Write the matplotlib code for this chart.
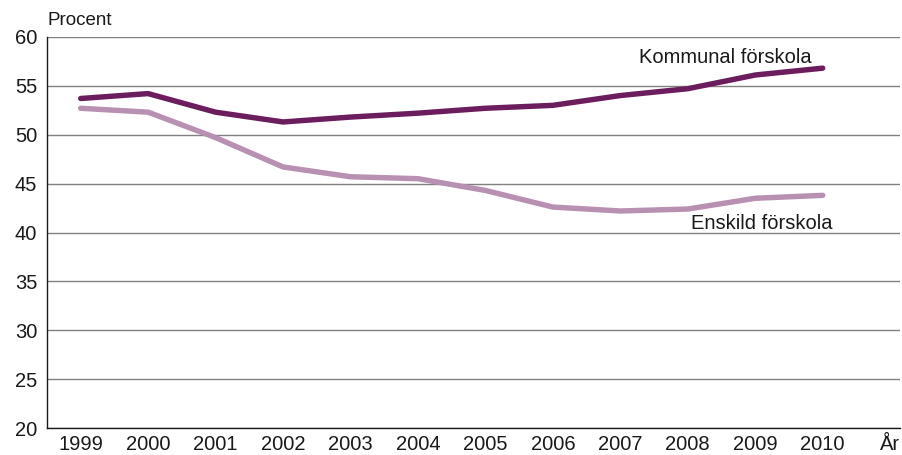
import matplotlib.pyplot as plt

years = [1999, 2000, 2001, 2002, 2003, 2004, 2005, 2006, 2007, 2008, 2009, 2010]
kommunal = [53.7, 54.2, 52.3, 51.3, 51.8, 52.2, 52.7, 53.0, 54.0, 54.7, 56.1, 56.8]
enskild = [52.7, 52.3, 49.7, 46.7, 45.7, 45.5, 44.3, 42.6, 42.2, 42.4, 43.5, 43.8]
y_ticks = [20, 25, 30, 35, 40, 45, 50, 55, 60]

plt.rcParams["font.family"] = ["Liberation Sans", "DejaVu Sans"]

DARK = "#6b1d5e"
LIGHT = "#b890b1"

fig = plt.figure(figsize=(9.03, 4.55), dpi=100)
ax = fig.add_axes([0.052, 0.059, 0.945, 0.860])

ax.plot(years, kommunal, color=DARK, lw=3.9, solid_capstyle="round", zorder=3)
ax.plot(years, enskild, color=LIGHT, lw=3.9, solid_capstyle="round", zorder=3)

ax.set_xlim(1998.5, 2011.15)
ax.set_ylim(20, 60)
ax.set_yticks(y_ticks)
ax.set_xticks(years + [2011])
ax.set_xticklabels([str(y) for y in years] + ["År"])
ax.tick_params(axis="both", length=0, labelsize=14.5, colors="#1a1a1a")
ax.tick_params(axis="x", pad=5)
ax.tick_params(axis="y", pad=7)

ax.grid(axis="y", color="#808080", lw=1.0, zorder=0)
for s in ["top", "right"]:
    ax.spines[s].set_visible(False)
ax.spines["left"].set_color("#1a1a1a")
ax.spines["bottom"].set_color("#1a1a1a")
ax.spines["left"].set_linewidth(1.0)
ax.spines["bottom"].set_linewidth(1.0)

fig.text(0.053, 0.955, "Procent", fontsize=13.5, color="#1a1a1a", ha="left", va="center")
ax.text(2008.55, 57.9, "Kommunal förskola", fontsize=14.5, color="#1a1a1a", ha="center", va="center")
ax.text(2009.1, 40.9, "Enskild förskola", fontsize=14.5, color="#1a1a1a", ha="center", va="center")

fig.savefig("out.png", dpi=100, facecolor="white")
